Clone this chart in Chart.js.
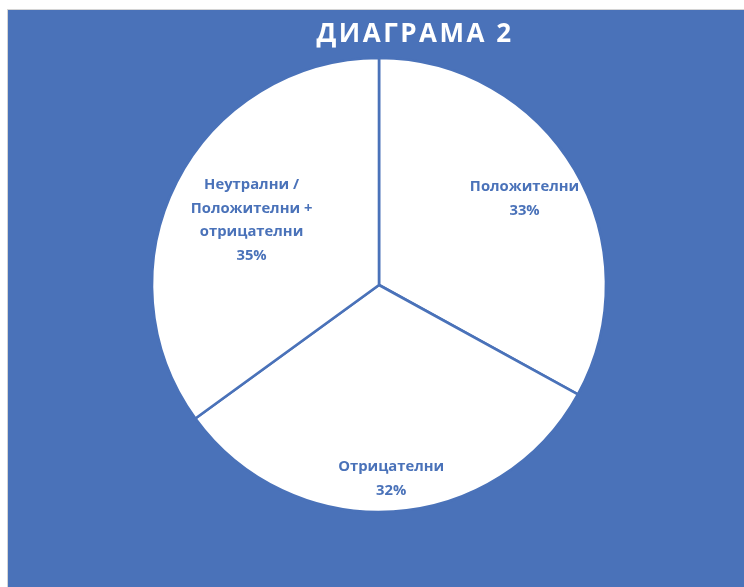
<!DOCTYPE html>
<html>
<head>
<meta charset="utf-8">
<script src="https://cdn.jsdelivr.net/npm/chart.js@4.4.1/dist/chart.umd.min.js"></script>
<style>
  html, body { margin: 0; padding: 0; background: #ffffff; }
  #panel {
    position: absolute; left: 7px; top: 9px; right: 0; bottom: 0;
    background: #4a72b9; border-left: 1px solid #d4d4d4; border-top: 1px solid #d4d4d4;
  }
  #myChart { position: absolute; left: 0; top: 0; }
</style>
</head>
<body>
<div id="panel"></div>
<canvas id="myChart" width="744" height="587"></canvas>
<script>
var chartTitle = 'ДИАГРАМА 2';
var labels = ['Положителни', 'Отрицателни', 'Неутрални /\nПоложителни +\nотрицателни'];
var values = [33, 32, 35];

var blue = '#4a72b9';
// how far out each label sits, as a share of the radius
var labelDist = [0.745, 0.855, 0.63];

var sliceLabels = {
    id: 'sliceLabels',
    afterDatasetsDraw: function (chart) {
        var ctx = chart.ctx;
        var arcs = chart.getDatasetMeta(0).data;
        var total = values.reduce(function (a, b) { return a + b; }, 0);
        ctx.save();
        ctx.fillStyle = blue;
        ctx.font = 'bold 14.8px "Open Sans"';
        ctx.textAlign = 'center';
        ctx.textBaseline = 'middle';
        arcs.forEach(function (arc, i) {
            var mid = (arc.startAngle + arc.endAngle) / 2;
            var r = arc.outerRadius * labelDist[i];
            var x = arc.x + Math.cos(mid) * r;
            var y = arc.y + Math.sin(mid) * r;
            var lines = labels[i].split('\n');
            lines.push(Math.round(values[i] / total * 100) + '%');
            var lh = 23.5;
            var y0 = y - (lines.length - 1) * lh / 2;
            lines.forEach(function (t, k) {
                ctx.fillText(t, x, y0 + k * lh);
            });
        });
        ctx.restore();
    }
};

var titleText = {
    id: 'titleText',
    afterDraw: function (chart) {
        var ctx = chart.ctx;
        ctx.save();
        ctx.fillStyle = '#ffffff';
        ctx.font = 'bold 26px "Open Sans"';
        ctx.letterSpacing = '2.5px';
        ctx.textAlign = 'center';
        ctx.textBaseline = 'alphabetic';
        ctx.fillText(chartTitle, 415, 42);
        ctx.restore();
    }
};

var ctx = document.getElementById('myChart');
var myChart = new Chart(ctx, {
    type: 'pie',
    data: {
        labels: labels,
        datasets: [{
            data: values,
            backgroundColor: '#ffffff',
            borderColor: blue,
            borderWidth: 2.6,
            radius: 227
        }]
    },
    options: {
        responsive: false,
        devicePixelRatio: 1,
        animation: false,
        layout: { padding: { left: 14, right: 0, top: 0, bottom: 17 } },
        plugins: {
            legend: { display: false },
            tooltip: { enabled: false },
            title: { display: false }
        }
    },
    plugins: [sliceLabels, titleText]
});
</script>
</body>
</html>
